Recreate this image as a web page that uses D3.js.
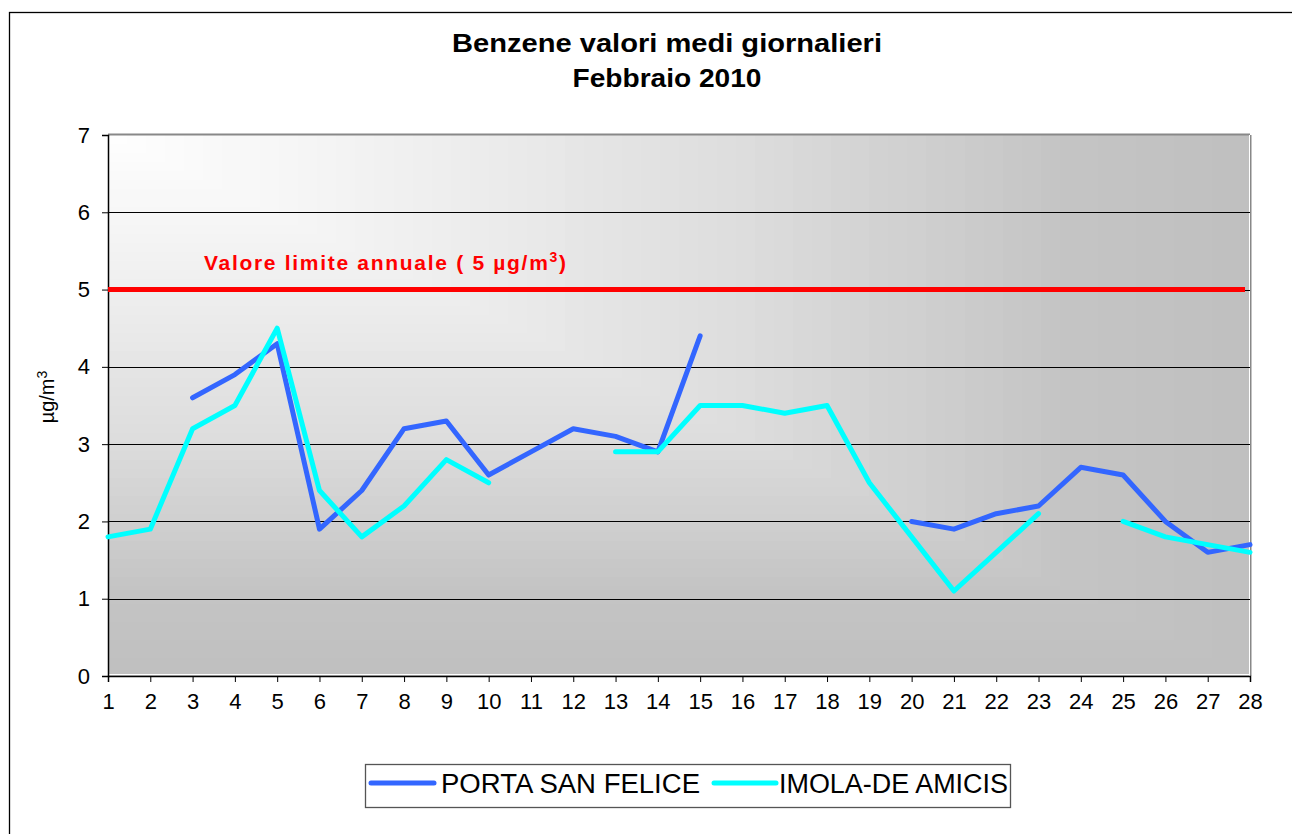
<!DOCTYPE html>
<html><head><meta charset="utf-8">
<script src="https://cdn.jsdelivr.net/npm/d3@7"></script>
<style>body{margin:0;background:#fff;} svg{display:block;font-family:"Liberation Sans",Arial,sans-serif;}</style>
</head><body>
<svg id="chart" width="1292" height="834"></svg>
<script>
const days = d3.range(1, 29);
const portaSanFelice = [null,null,3.6,3.9,4.3,1.9,2.4,3.2,3.3,2.6,2.9,3.2,3.1,2.9,4.4,null,null,null,null,2.0,1.9,2.1,2.2,2.7,2.6,2.0,1.6,1.7];
const imolaDeAmicis = [1.8,1.9,3.2,3.5,4.5,2.4,1.8,2.2,2.8,2.5,null,null,2.9,2.9,3.5,3.5,3.4,3.5,2.5,1.8,1.1,1.6,2.1,null,2.0,1.8,1.7,1.6];
const yTicks = [0,1,2,3,4,5,6,7];
const limitValue = 5;
const seriesNames = ["PORTA SAN FELICE","IMOLA-DE AMICIS"];
const seriesColors = ["#3366FF","#00FFFF"];

const svg = d3.select("#chart");
const L=108, R=1250, T=135, B=676;
const x = d3.scaleLinear().domain([1,28]).range([L,R]);
const y = d3.scaleLinear().domain([0,7]).range([B,T]);

// outer border
svg.append("rect").attr("x",9.5).attr("y",12.5).attr("width",1300).attr("height",840)
  .attr("fill","#fff").attr("stroke","#000").attr("stroke-width",1.3);

// plot background: corner gradient (nested rectangles)
const bgColor = d3.scaleLinear().domain([0,0.25,0.55,0.85,1]).range(["#ffffff","#f1f1f1","#dedede","#c4c4c4","#c0c0c0"]);
const steps = d3.range(60,0,-1).map(i=>i/60);
svg.append("g").selectAll("rect").data(steps).join("rect")
  .attr("x",L).attr("y",T)
  .attr("width",t=>(R-L)*t).attr("height",t=>(B-T)*t)
  .attr("fill",t=>bgColor(t)).attr("shape-rendering","crispEdges");

// plot border lines (top/right grey)
svg.append("line").attr("x1",L).attr("x2",R).attr("y1",T-0.5).attr("y2",T-0.5).attr("stroke","#888").attr("stroke-width",2);
svg.append("line").attr("x1",R+0.5).attr("x2",R+0.5).attr("y1",T).attr("y2",B).attr("stroke","#888").attr("stroke-width",2);
svg.append("line").attr("x1",R-0.5).attr("x2",R-0.5).attr("y1",T).attr("y2",B).attr("stroke","#fff").attr("stroke-width",1);
svg.append("line").attr("x1",L).attr("x2",R).attr("y1",B-1.5).attr("y2",B-1.5).attr("stroke","#fff").attr("stroke-width",1);

// gridlines
svg.append("g").selectAll("line").data(yTicks.filter(v=>v>0&&v<7)).join("line")
  .attr("x1",L).attr("x2",R).attr("y1",v=>Math.round(y(v))+0.5).attr("y2",v=>Math.round(y(v))+0.5)
  .attr("stroke","#000").attr("stroke-width",1);

// axes
const yAxis = d3.axisLeft(y).tickValues(yTicks).tickSize(6).tickPadding(12).tickFormat(d3.format("d"));
const gy = svg.append("g").attr("transform",`translate(${L},0)`).call(yAxis);
gy.attr("font-size",22).attr("font-family","Liberation Sans, Arial, sans-serif");
gy.select(".domain").attr("stroke","#000").attr("stroke-width",1.5);
gy.selectAll("text").attr("fill","#000");

const xAxis = d3.axisBottom(x).tickValues(days).tickSize(6).tickPadding(11).tickFormat(d3.format("d"));
const gx = svg.append("g").attr("transform",`translate(0,${B})`).call(xAxis);
gx.attr("font-size",22).attr("font-family","Liberation Sans, Arial, sans-serif");
gx.select(".domain").attr("stroke","#000").attr("stroke-width",1.5);
gx.selectAll("text").attr("fill","#000");

// limit line
svg.append("line").attr("x1",L).attr("x2",R-5).attr("y1",y(limitValue)).attr("y2",y(limitValue))
  .attr("stroke","#FF0000").attr("stroke-width",5);
const lt = svg.append("text").attr("x",204).attr("y",270).attr("fill","#FF0000")
  .attr("font-size",21).attr("font-weight","bold").attr("letter-spacing",1.7);
lt.append("tspan").text("Valore limite annuale ( 5 µg/m");
lt.append("tspan").attr("dy",-8).attr("font-size",14).text("3");
lt.append("tspan").attr("dy",8).text(")");

// series lines
const line = d3.line().defined(d=>d.v!=null).x(d=>x(d.day)).y(d=>y(d.v));
[portaSanFelice, imolaDeAmicis].forEach((vals,i)=>{
  const data = days.map((d,j)=>({day:d, v:vals[j]}));
  svg.append("path").datum(data).attr("d",line).attr("fill","none")
    .attr("stroke",seriesColors[i]).attr("stroke-width",5)
    .attr("stroke-linecap","round").attr("stroke-linejoin","round");
});

// title
svg.append("text").attr("x",667).attr("y",52).attr("text-anchor","middle")
  .attr("font-size",26).attr("font-weight","bold").attr("textLength",430).attr("lengthAdjust","spacingAndGlyphs")
  .text("Benzene valori medi giornalieri");
svg.append("text").attr("x",667).attr("y",87).attr("text-anchor","middle")
  .attr("font-size",26).attr("font-weight","bold").attr("textLength",189).attr("lengthAdjust","spacingAndGlyphs")
  .text("Febbraio 2010");

// y label
const yl = svg.append("text").attr("transform","translate(54,397) rotate(-90)").attr("text-anchor","middle")
  .attr("font-size",20);
yl.append("tspan").text("µg/m");
yl.append("tspan").attr("dy",-7).attr("font-size",14).text("3");

// legend
const lg = svg.append("g");
lg.append("rect").attr("x",365.5).attr("y",764.5).attr("width",645).attr("height",43)
  .attr("fill","#fff").attr("stroke","#555").attr("stroke-width",1.3);
const legX = [[371,434,441,259],[714,776,779,229]];
seriesNames.forEach((n,i)=>{
  const [a,b,tx,tw]=legX[i];
  lg.append("line").attr("x1",a).attr("x2",b).attr("y1",783).attr("y2",783)
    .attr("stroke",seriesColors[i]).attr("stroke-width",5).attr("stroke-linecap","round");
  lg.append("text").attr("x",tx).attr("y",793).attr("font-size",27)
    .attr("textLength",tw).attr("lengthAdjust","spacingAndGlyphs").text(n);
});
</script>
</body></html>
